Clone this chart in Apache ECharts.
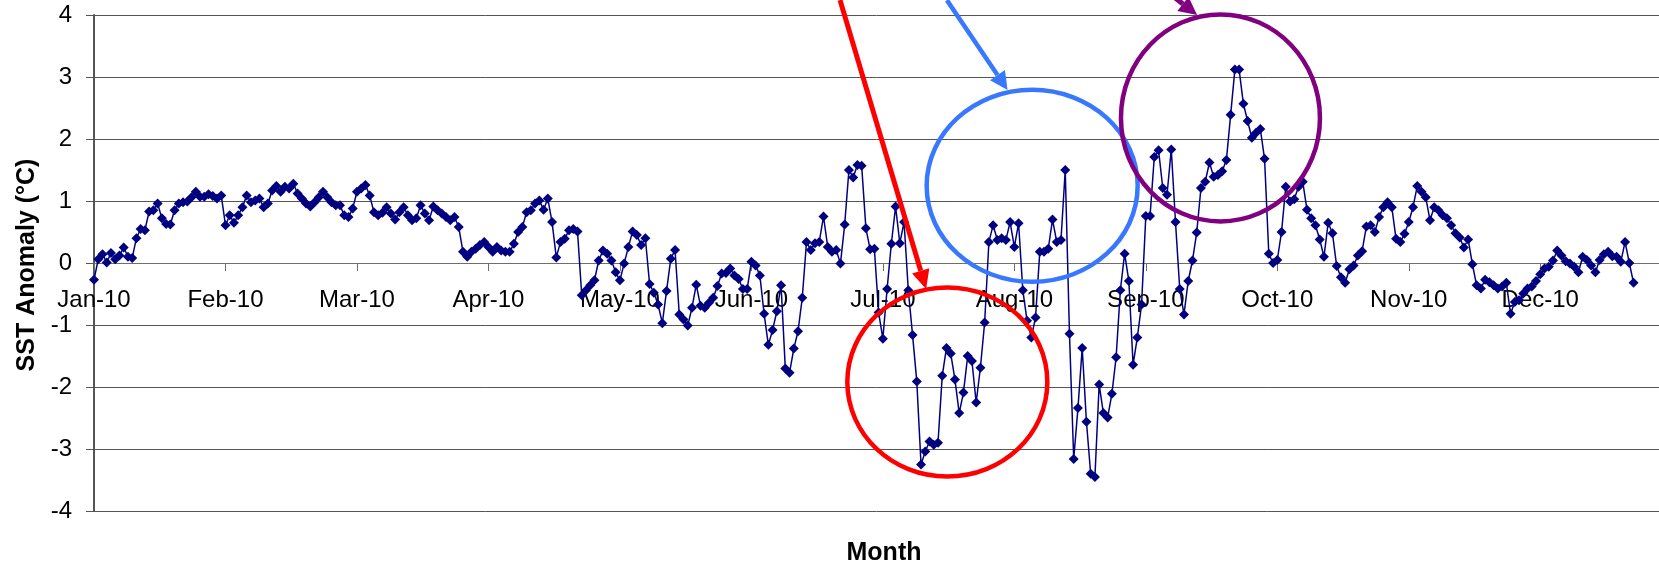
<!DOCTYPE html>
<html>
<head>
<meta charset="utf-8">
<title>SST Anomaly 2010</title>
<script src="https://cdn.jsdelivr.net/npm/echarts@6/dist/echarts.min.js"></script>
<style>
  html, body { margin: 0; padding: 0; background: #ffffff; }
  #chart { width: 1659px; height: 564px; }
</style>
</head>
<body>
<div id="chart"></div>
<script>
// daily SST anomaly (°C), one array per month of 2010
const jan = [-0.27, 0.06, 0.14, 0.01, 0.16, 0.06, 0.12, 0.25, 0.10, 0.08, 0.40, 0.55, 0.53, 0.83, 0.85, 0.96, 0.72, 0.63, 0.62, 0.85, 0.96, 0.98, 0.99, 1.06, 1.15, 1.07, 1.07, 1.11, 1.08, 1.04, 1.09];
const feb = [0.61, 0.77, 0.65, 0.77, 0.90, 1.09, 0.98, 1.01, 1.04, 0.90, 0.96, 1.17, 1.24, 1.15, 1.23, 1.20, 1.28, 1.12, 1.04, 0.96, 0.91, 0.98, 1.06, 1.15, 1.06, 0.98, 0.93, 0.93];
const mar = [0.77, 0.74, 0.88, 1.15, 1.20, 1.26, 1.09, 0.82, 0.77, 0.81, 0.90, 0.80, 0.70, 0.82, 0.90, 0.77, 0.69, 0.72, 0.93, 0.80, 0.69, 0.91, 0.85, 0.80, 0.74, 0.69, 0.74, 0.58, 0.18, 0.10, 0.18];
const apr = [0.23, 0.29, 0.34, 0.26, 0.18, 0.26, 0.20, 0.18, 0.18, 0.31, 0.50, 0.58, 0.82, 0.85, 0.96, 1.01, 0.86, 1.04, 0.66, 0.09, 0.34, 0.39, 0.53, 0.55, 0.51, -0.52, -0.44, -0.36, -0.28, 0.04];
const may = [0.20, 0.15, 0.04, -0.15, -0.28, -0.01, 0.26, 0.51, 0.45, 0.29, 0.40, -0.34, -0.48, -0.67, -0.97, -0.45, 0.07, 0.21, -0.83, -0.91, -1.01, -0.72, -0.35, -0.69, -0.72, -0.64, -0.56, -0.37, -0.17, -0.16, -0.09];
const jun = [-0.20, -0.26, -0.42, -0.42, 0.02, -0.04, -0.20, -0.82, -1.32, -1.08, -0.78, -0.36, -1.70, -1.77, -1.38, -1.10, -0.56, 0.34, 0.21, 0.32, 0.34, 0.75, 0.26, 0.18, 0.21, -0.01, 0.62, 1.50, 1.38, 1.58];
const jul = [1.57, 0.56, 0.22, 0.23, -0.80, -1.22, -0.42, 0.31, 0.91, 0.32, 0.66, -0.44, -1.16, -1.91, -3.25, -3.04, -2.88, -2.93, -2.90, -1.82, -1.37, -1.46, -1.88, -2.42, -2.09, -1.50, -1.58, -2.25, -1.69, -0.96, 0.34];
const aug = [0.61, 0.37, 0.40, 0.37, 0.66, 0.26, 0.64, -0.44, -0.93, -1.20, -0.88, 0.18, 0.18, 0.23, 0.70, 0.34, 0.37, 1.50, -1.14, -3.16, -2.34, -1.37, -2.56, -3.40, -3.45, -1.96, -2.42, -2.49, -2.11, -1.52, -0.44];
const sep = [0.15, -0.29, -1.64, -1.20, -0.67, 0.76, 0.76, 1.71, 1.82, 1.21, 1.10, 1.83, 0.66, -0.42, -0.83, -0.29, 0.04, 0.49, 1.21, 1.31, 1.62, 1.39, 1.42, 1.48, 1.66, 2.39, 3.12, 3.12, 2.57, 2.29];
const oct = [2.02, 2.10, 2.16, 1.68, 0.15, 0.00, 0.05, 0.50, 1.23, 0.99, 1.03, 1.23, 1.31, 0.86, 0.72, 0.61, 0.38, 0.10, 0.65, 0.48, -0.05, -0.23, -0.32, -0.10, -0.04, 0.12, 0.19, 0.59, 0.61, 0.50, 0.74];
const nov = [0.90, 0.98, 0.90, 0.39, 0.34, 0.47, 0.66, 0.90, 1.24, 1.15, 1.06, 0.69, 0.90, 0.85, 0.77, 0.72, 0.61, 0.48, 0.41, 0.25, 0.38, -0.02, -0.36, -0.41, -0.27, -0.31, -0.36, -0.41, -0.38, -0.32];
const dec = [-0.82, -0.63, -0.60, -0.49, -0.41, -0.38, -0.29, -0.18, -0.09, -0.06, 0.04, 0.20, 0.12, 0.03, -0.01, -0.06, -0.15, 0.10, 0.05, -0.04, -0.15, 0.05, 0.14, 0.18, 0.11, 0.10, 0.02, 0.34, 0.00, -0.32];

// x labels, excel writes one every 31 points
const monthLabels = ["Jan-10", "Feb-10", "Mar-10", "Apr-10", "May-10", "Jun-10", "Jul-10", "Aug-10", "Sep-10", "Oct-10", "Nov-10", "Dec-10"];
const labelStep = 31;
const yTicks = [-4, -3, -2, -1, 0, 1, 2, 3, 4];

const anomaly = [].concat(jan, feb, mar, apr, may, jun, jul, aug, sep, oct, nov, dec);
const points = anomaly.map((v, i) => [i, v]);
const labelPos = monthLabels.map((_, k) => k * labelStep);

const font = "'Liberation Sans', Arial, sans-serif";
const gridTop = 15;
const gridBottom = 53;
const chartHeight = 564;
// the category axis sits on the zero line, so lift it from the bottom of the grid
const plotH = chartHeight - gridTop - gridBottom;
const zeroLift = plotH * (0 - yTicks[0]) / (yTicks[yTicks.length - 1] - yTicks[0]);

const chart = echarts.init(document.getElementById("chart"));

chart.setOption({
  animation: false,
  backgroundColor: "#ffffff",
  grid: { left: 94, right: 0, top: gridTop, bottom: gridBottom, containLabel: false, outerBoundsMode: "none" },
  xAxis: {
    type: "value",
    min: 0,
    max: 369,
    offset: -zeroLift,
    axisLine: { show: true, onZero: false, lineStyle: { color: "#6e6e6e", width: 1 } },
    axisTick: { show: true, inside: false, length: 8, customValues: labelPos, lineStyle: { color: "#6e6e6e" } },
    axisLabel: {
      customValues: labelPos,
      formatter: (v) => monthLabels[Math.round(v / labelStep)] || "",
      margin: 25,
      fontSize: 24,
      fontFamily: font,
      color: "#000"
    },
    splitLine: { show: false }
  },
  yAxis: {
    type: "value",
    min: yTicks[0],
    max: yTicks[yTicks.length - 1],
    interval: 1,
    axisLine: { show: true, lineStyle: { color: "#555", width: 2 } },
    axisTick: { show: true, length: 8, lineStyle: { color: "#555" } },
    axisLabel: { margin: 22, fontSize: 24, fontFamily: font, color: "#000" },
    splitLine: { show: true, lineStyle: { color: "#555", width: 1 } }
  },
  series: [
    {
      type: "line",
      data: points,
      symbol: "diamond",
      symbolSize: 10,
      showAllSymbol: true,
      lineStyle: { color: "#000080", width: 1.5 },
      itemStyle: { color: "#000080" },
      z: 3
    }
  ]
});

// annotations, anchored in data space (day, anomaly)
function px(day, val) {
  return chart.convertToPixel({ gridIndex: 0 }, [day, val]);
}

function arrow(from, to, color, width, len, half) {
  const a = px(from[0], from[1]);
  const b = px(to[0], to[1]);
  const ang = Math.atan2(b[1] - a[1], b[0] - a[0]);
  const bx = b[0] - len * Math.cos(ang);
  const by = b[1] - len * Math.sin(ang);
  return [
    {
      type: "line",
      z: 100,
      shape: { x1: a[0], y1: a[1], x2: bx, y2: by },
      style: { stroke: color, lineWidth: width }
    },
    {
      type: "polygon",
      z: 100,
      shape: {
        points: [
          [b[0], b[1]],
          [bx + half * Math.sin(ang), by - half * Math.cos(ang)],
          [bx - half * Math.sin(ang), by + half * Math.cos(ang)]
        ]
      },
      style: { fill: color }
    }
  ];
}

function ring(day, val, rx, ry, color) {
  const c = px(day, val);
  return {
    type: "ellipse",
    z: 100,
    shape: { cx: c[0], cy: c[1], rx: rx, ry: ry },
    style: { fill: null, stroke: color, lineWidth: 4.5 }
  };
}

const axisTitles = [
  {
    type: "text",
    x: 27,
    y: 265,
    rotation: Math.PI / 2,
    z: 100,
    style: { text: "SST Anomaly (°C)", font: "bold 25px " + font, fill: "#000", textAlign: "center", textVerticalAlign: "middle" }
  },
  {
    type: "text",
    x: 884,
    y: 553,
    z: 100,
    style: { text: "Month", font: "bold 25px " + font, fill: "#000", textAlign: "center", textVerticalAlign: "middle" }
  }
];

chart.setOption({
  graphic: [].concat(
    ring(201.2, -1.92, 100, 94.5, "#ff0000"),
    ring(221.2, 1.245, 105.5, 96, "#3878ff"),
    ring(265.6, 2.34, 99.5, 103.5, "#800080"),
    arrow([175.9, 4.24], [196.2, -0.42], "#ff0000", 5, 19, 9),
    arrow([201.1, 4.24], [215.4, 2.79], "#3878ff", 4.5, 18, 9),
    arrow([252.6, 4.4], [260.1, 4.0], "#800080", 5, 18, 9),
    axisTitles
  )
});
</script>
</body>
</html>
